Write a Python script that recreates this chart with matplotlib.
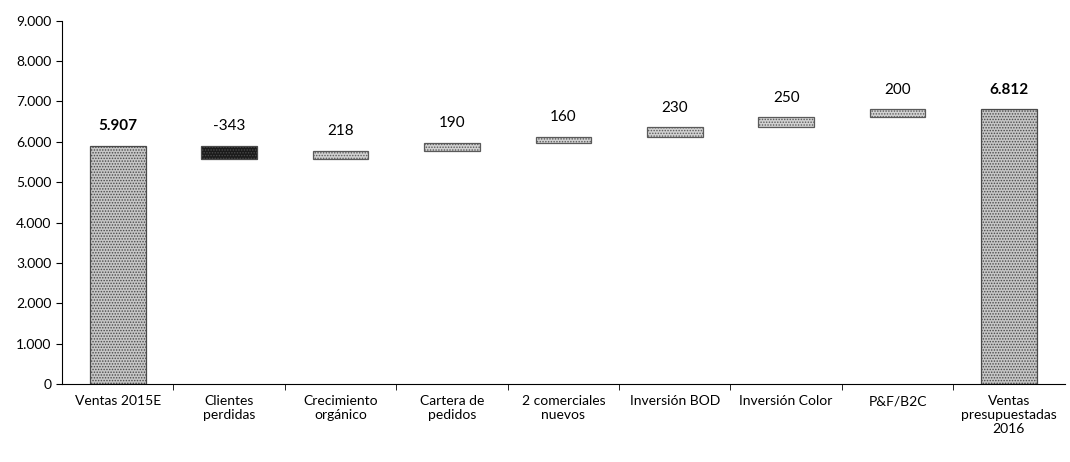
import matplotlib
matplotlib.use("Agg")
from matplotlib import pyplot as plt
from matplotlib.ticker import FuncFormatter, FixedLocator

plt.rcParams['font.family'] = ['Lato', 'DejaVu Sans']
plt.rcParams['hatch.linewidth'] = 0.7

categories = ["Ventas 2015E", "Clientes\nperdidas", "Crecimiento\norgánico",
              "Cartera de\npedidos", "2 comerciales\nnuevos", "Inversión BOD",
              "Inversión Color", "P&F/B2C", "Ventas\npresupuestadas\n2016"]
start_value = 5907
changes = [-343, 218, 190, 160, 230, 250, 200]
end_value = 6812
labels = ["5.907", "-343", "218", "190", "160", "230", "250", "200", "6.812"]

fig = plt.figure(figsize=(10.7, 4.62), dpi=100)
ax = fig.add_axes([0.058, 0.169, 0.937, 0.786])

n = len(categories)
x = list(range(n))
width = 0.5

bottoms = [0]
heights = [start_value]
running = start_value
for c in changes:
    if c < 0:
        bottoms.append(running + c)
        heights.append(-c)
    else:
        bottoms.append(running)
        heights.append(c)
    running += c
bottoms.append(0)
heights.append(end_value)

for i in range(n):
    if i in (0, n - 1):
        fc, ec = "#c6c6c6", "#4a4a4a"
    elif changes[i - 1] < 0:
        fc, ec = "#1a1a1a", "#4a4a4a"
    else:
        fc, ec = "#d2d2d2", "#5a5a5a"
    ax.bar(x[i], heights[i], width, bottom=bottoms[i], facecolor=fc,
           edgecolor=ec, hatch="......", linewidth=0.9)
    top = bottoms[i] + heights[i]
    weight = "bold" if i in (0, n - 1) else "normal"
    ax.annotate(labels[i], (x[i], top), xytext=(0, 9), textcoords="offset points",
                ha="center", va="bottom", fontsize=11, fontweight=weight)

ax.set_xlim(-0.5, n - 0.5)
ax.set_ylim(0, 9000)
ax.yaxis.set_major_locator(FixedLocator(range(0, 9001, 1000)))
ax.yaxis.set_major_formatter(FuncFormatter(lambda v, p: f"{int(v):,}".replace(",", ".")))
ax.set_xticks(x)
ax.set_xticklabels(categories, fontsize=10)
ax.tick_params(axis="x", length=0, pad=8)
ax.set_xticks([i + 0.5 for i in range(n - 1)], minor=True)
ax.tick_params(axis="x", which="minor", length=4, direction="out")
ax.tick_params(axis="y", length=4, labelsize=10)
ax.spines["top"].set_visible(False)
ax.spines["right"].set_visible(False)

fig.savefig("out.png", dpi=100)
